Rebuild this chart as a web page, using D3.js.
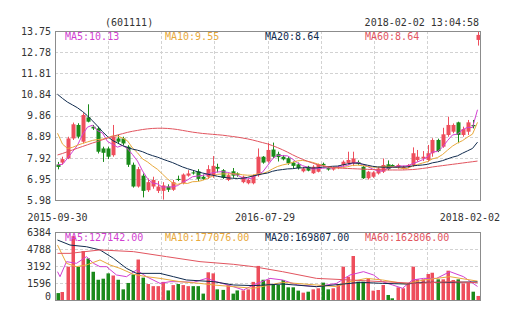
<!DOCTYPE html>
<html><head><meta charset="utf-8">
<script src="https://cdn.jsdelivr.net/npm/d3@7/dist/d3.min.js"></script>
<style>
html,body{margin:0;padding:0;background:#fff;}
text{font-family:"DejaVu Sans Mono",monospace;}
</style></head>
<body><svg id="c" width="505" height="330"></svg>
<script>
const code = "(601111)";
const stamp = "2018-02-02 13:04:58";
const priceTicks = ["13.75","12.78","11.81","10.84","9.86","8.89","7.92","6.95","5.98"];
const volTicks = ["6384","4788","3192","1596","0"];
const dateLabels = ["2015-09-30","2016-07-29","2018-02-02"];
const priceLegend = ["MA5:10.13","MA10:9.55","MA20:8.64","MA60:8.64"];
const volLegend = ["MA5:127142.00","MA10:177076.00","MA20:169807.00","MA60:162806.00"];

const open = [7.61,7.70,7.89,8.81,9.43,8.66,9.78,9.35,9.27,8.35,8.35,8.04,8.81,8.81,8.43,7.60,6.60,7.10,6.43,6.60,
6.40,6.40,6.60,6.45,6.95,6.75,7.10,7.25,7.30,7.05,7.05,7.10,7.50,7.35,6.90,7.30,7.20,6.80,6.75,6.75,
7.12,7.97,7.75,8.30,8.10,7.97,7.90,7.70,7.62,7.30,7.51,7.21,7.28,7.64,7.45,7.38,7.45,7.58,7.67,7.67,
7.72,7.51,6.98,7.05,7.20,7.28,7.62,7.59,7.47,7.42,7.51,7.59,7.82,7.89,7.82,8.13,8.74,8.43,8.97,9.12,
9.55,8.97,9.12,9.43,13.34];
const high = [7.73,7.97,8.89,9.54,9.51,9.97,10.38,9.43,9.35,8.43,8.43,9.43,8.97,8.89,8.50,7.70,7.50,7.20,6.97,7.05,
6.85,6.80,6.70,6.90,7.10,7.20,7.35,7.35,7.40,7.15,7.58,8.00,7.65,7.40,7.20,7.45,7.25,7.10,6.95,7.15,
8.35,8.00,8.60,8.62,8.20,8.05,7.95,7.75,7.70,7.50,7.55,7.58,7.65,7.70,7.50,7.50,7.55,7.80,8.20,8.20,
7.80,7.55,7.32,7.30,7.48,7.89,7.80,7.62,7.65,7.55,7.63,8.40,8.28,8.23,8.51,8.82,8.80,9.30,9.81,9.50,
9.58,9.35,9.66,9.66,13.75];
const low = [7.39,7.61,7.86,8.74,8.81,8.58,9.55,9.20,8.12,7.73,7.86,7.97,8.58,8.50,7.50,6.55,6.55,6.10,6.35,6.50,
6.30,6.00,6.35,6.40,6.85,6.70,7.05,7.15,6.85,6.90,6.95,7.00,7.25,6.95,6.85,7.00,7.05,6.75,6.70,6.70,
7.05,7.65,7.70,7.90,7.75,7.80,7.60,7.45,7.38,7.25,7.30,7.18,7.25,7.52,7.33,7.33,7.40,7.52,7.60,7.54,
7.60,6.95,6.92,7.00,7.15,7.22,7.35,7.52,7.42,7.38,7.45,7.51,7.74,7.77,7.74,7.97,8.18,8.38,8.89,9.05,
8.59,8.89,8.97,9.27,13.08];
const close = [7.50,7.86,8.81,9.46,8.89,9.89,9.58,9.27,8.20,8.15,7.97,8.89,8.66,8.58,7.60,6.60,7.40,6.40,6.80,6.90,
6.60,6.65,6.45,6.80,6.90,7.15,7.20,7.20,6.95,6.95,7.40,7.55,7.42,7.00,7.12,7.10,7.12,7.05,6.90,7.10,
7.97,7.70,8.28,7.97,7.95,7.85,7.67,7.55,7.44,7.43,7.33,7.51,7.62,7.58,7.38,7.45,7.50,7.74,7.82,7.89,
7.65,6.98,7.28,7.25,7.43,7.59,7.40,7.55,7.59,7.51,7.59,8.13,7.97,7.97,8.13,8.74,8.23,9.00,9.43,9.43,
8.97,9.24,9.55,9.37,13.57];
const volume = [650,750,3130,6000,3130,4600,3900,2650,1900,2000,2500,2300,1900,1000,1600,2400,3800,2100,1500,1300,
1300,1700,900,1400,1500,1400,1300,1300,1300,600,2600,2500,1000,950,1400,600,900,900,1000,1700,
3200,1900,1900,1410,1410,1880,1190,1190,880,690,780,1000,1100,1630,1000,1100,1500,3130,2190,4130,
1720,1720,2040,880,940,1410,470,160,1190,1100,1570,3130,1940,1940,2440,2560,1940,1940,2750,1880,
1940,1570,1630,780,380];

const ma5 = [7.60,7.62,7.90,8.20,8.50,8.98,9.33,9.42,9.17,9.06,8.67,8.54,8.41,8.49,8.34,8.07,7.77,7.32,6.96,6.76,
6.72,6.57,6.58,6.58,6.64,6.79,6.90,7.05,7.08,7.11,7.16,7.23,7.27,7.28,7.25,7.19,7.12,7.00,6.95,6.99,
7.16,7.26,7.56,7.87,8.04,8.02,8.01,7.86,7.69,7.56,7.49,7.40,7.42,7.44,7.46,7.45,7.50,7.52,7.57,7.67,
7.71,7.62,7.52,7.41,7.32,7.31,7.43,7.49,7.53,7.55,7.55,7.65,7.73,7.83,7.96,8.19,8.21,8.41,8.71,8.97,
9.01,9.21,9.32,9.31,10.13];
const ma10 = [9.05,8.55,8.35,8.40,8.50,8.58,8.65,8.72,8.76,8.78,8.83,8.93,8.92,8.83,8.70,8.37,8.15,7.87,7.73,7.55,
7.39,7.17,6.95,6.77,6.70,6.76,6.74,6.82,6.83,6.88,6.98,7.07,7.16,7.18,7.18,7.18,7.18,7.14,7.12,7.12,
7.18,7.19,7.28,7.41,7.52,7.59,7.64,7.71,7.78,7.80,7.76,7.71,7.64,7.57,7.51,7.47,7.45,7.47,7.51,7.57,
7.58,7.56,7.52,7.49,7.49,7.51,7.53,7.51,7.47,7.43,7.43,7.54,7.61,7.68,7.75,7.87,7.93,8.07,8.27,8.46,
8.60,8.71,8.87,9.01,9.55];
const ma20 = [10.84,10.65,10.48,10.35,10.22,10.05,9.85,9.62,9.38,9.12,8.90,8.72,8.60,8.48,8.40,8.32,8.27,8.20,8.10,8.02,
7.95,7.86,7.78,7.70,7.60,7.50,7.42,7.35,7.28,7.22,7.17,7.12,7.07,7.03,7.00,6.98,6.97,6.98,7.02,7.08,
7.13,7.18,7.22,7.30,7.35,7.38,7.41,7.42,7.45,7.46,7.47,7.45,7.46,7.49,7.51,7.53,7.54,7.59,7.64,7.68,
7.67,7.63,7.58,7.53,7.50,7.49,7.49,7.49,7.49,7.50,7.50,7.55,7.57,7.59,7.62,7.69,7.73,7.79,7.87,7.95,
8.01,8.13,8.24,8.35,8.64];
const ma60 = [8.05,8.12,8.20,8.28,8.36,8.44,8.52,8.60,8.67,8.75,8.83,8.90,8.97,9.03,9.09,9.14,9.18,9.22,9.25,9.27,
9.28,9.28,9.27,9.25,9.22,9.18,9.14,9.10,9.07,9.04,9.02,9.00,8.98,8.96,8.93,8.90,8.87,8.83,8.79,8.74,
8.68,8.62,8.56,8.48,8.39,8.29,8.18,8.06,7.95,7.85,7.76,7.68,7.60,7.55,7.51,7.48,7.46,7.44,7.43,7.42,
7.41,7.40,7.39,7.38,7.37,7.37,7.36,7.36,7.36,7.36,7.37,7.38,7.40,7.43,7.46,7.50,7.53,7.56,7.59,7.62,
7.65,7.68,7.71,7.74,7.77];

// volume moving averages, read at these bar positions
const vmaPos5 = [0,0.5,1.8,3.8,5.8,7.2,8.5,9.8,11.8,13.8,15.8,17.8,20.5,22.5,24.5,27.2,29.8,31.8,35.2,37.2,39.2,42.5,45,48,51.8,55.8,58.5,61.2,63.2,65,67,69,71,73.2,75.8,78.5,81.2,84];
const vma5 = [2660,2190,3600,3440,4070,3440,3130,3130,2350,2190,2820,2190,1560,1720,1720,1660,2030,1720,1250,940,1410,2030,1880,1410,1250,1560,2350,2660,2350,1720,1410,1100,1880,2030,2030,2660,2190,1271];
const vmaPos10 = [0,1.8,3.8,5.8,8.5,10.5,12.5,15.2,17.8,20.5,24.5,28.5,31.2,35.2,39.2,45,51.8,55.8,58.5,61.8,65,69.8,73.2,78.5,84];
const vma10 = [5160,3440,3130,3290,3760,3290,2970,2410,2190,2030,1720,1560,1410,1250,1100,1660,1410,1250,1720,2030,1880,1500,1880,2190,1771];
const vmaPos20 = [0,2.5,5.8,8.5,11.2,13.8,15.8,20.5,23.2,25.8,31.2,35.2,39.2,45,51.8,58.5,60.5,65,69.8,73.2,78.5,84];
const vma20 = [5630,5160,5000,4700,3910,2970,2500,2500,2190,1880,1720,1410,1350,1500,1250,1560,1660,1560,1500,1660,1660,1698];
const vmaPos60 = [0,2.5,8.5,15.2,21.8,28.5,35.2,39.2,45,51.8,58.5,65,71.8,78.5,84];
const vma60 = [4380,4380,4700,4540,4070,3600,3350,3130,2660,2030,1880,1720,1560,1720,1628];

const C = {up:"#ee4e5c", down:"#1a8a1a", ma5:"#d23fd2", ma10:"#e9a93b", ma20:"#102b4e", ma60:"#e2555f",
  grid:"#d2d2d2", border:"#8c8c8c", text:"#333"};
const maColors = [C.ma5, C.ma10, C.ma20, C.ma60];

const svg = d3.select("#c");
const L = 55, R = 480, PT = 31, PB = 200, VT = 232, VB = 300;
const n = close.length;
const x = d3.scaleLinear().domain([-0.5, n - 0.5]).range([L, R]);
const y = d3.scaleLinear().domain([+priceTicks[priceTicks.length-1], +priceTicks[0]]).range([PB, PT]);
const yv = d3.scaleLinear().domain([0, +volTicks[0]]).range([VB, VT]);
const gx = d3.scaleLinear().domain([0, 8]).range([L, R]);

function grid(top, bottom, yScale, ticks) {
  const g = svg.append("g");
  g.selectAll("line.h").data(ticks.slice(1, -1)).join("line")
    .attr("x1", L).attr("x2", R)
    .attr("y1", d => Math.round(yScale(+d)) + 0.5).attr("y2", d => Math.round(yScale(+d)) + 0.5)
    .attr("stroke", C.grid).attr("stroke-dasharray", "3,2");
  g.selectAll("line.v").data(d3.range(1, 8)).join("line")
    .attr("x1", d => Math.round(gx(d)) + 0.5).attr("x2", d => Math.round(gx(d)) + 0.5)
    .attr("y1", top).attr("y2", bottom)
    .attr("stroke", C.grid).attr("stroke-dasharray", "3,2");
}
grid(PT, PB, y, priceTicks);
grid(VT, VB, yv, volTicks);

// axes
const ax = svg.append("g").attr("transform", `translate(${L},0)`)
  .call(d3.axisLeft(y).tickValues(priceTicks.map(Number)).tickFormat((d, i) => priceTicks[i]).tickSize(0).tickPadding(4));
ax.select(".domain").remove();
ax.selectAll("text").attr("font-family", "DejaVu Sans Mono").attr("font-size", 10).attr("fill", C.text);
const av = svg.append("g").attr("transform", `translate(${L},0)`)
  .call(d3.axisLeft(yv).tickValues(volTicks.map(Number)).tickFormat((d, i) => volTicks[i]).tickSize(0).tickPadding(4));
av.select(".domain").remove();
av.selectAll("text").attr("font-family", "DejaVu Sans Mono").attr("font-size", 10).attr("fill", C.text)
  .attr("dy", (d) => d === 0 ? "-0.05em" : "0.32em");

// candles
const idx = d3.range(n);
const col = i => close[i] >= open[i] ? C.up : C.down;
const cg = svg.append("g");
cg.selectAll("line").data(idx).join("line")
  .attr("x1", i => Math.round(x(i)) + 0.5).attr("x2", i => Math.round(x(i)) + 0.5)
  .attr("y1", i => y(high[i])).attr("y2", i => y(low[i]))
  .attr("stroke", col).attr("stroke-width", 1);
cg.selectAll("rect").data(idx).join("rect")
  .attr("x", i => Math.round(x(i)) - 1.5).attr("width", 4)
  .attr("y", i => y(Math.max(open[i], close[i])))
  .attr("height", i => Math.max(1, Math.abs(y(open[i]) - y(close[i]))))
  .attr("fill", col);

// price MA lines
const line = d3.line().x((d, i) => x(i)).y(d => y(d));
[ma5, ma10, ma20, ma60].forEach((arr, k) => {
  svg.append("path").datum(arr).attr("d", line).attr("fill", "none")
    .attr("stroke", maColors[k]).attr("stroke-width", 1);
});

// volume bars
svg.append("g").selectAll("rect").data(idx).join("rect")
  .attr("x", i => Math.round(x(i)) - 1.5).attr("width", 3.5)
  .attr("y", i => yv(volume[i])).attr("height", i => VB - yv(volume[i]))
  .attr("fill", col);

// volume MA lines
[[vmaPos5, vma5], [vmaPos10, vma10], [vmaPos20, vma20], [vmaPos60, vma60]].forEach(([pos, val], k) => {
  const vl = d3.line().x((d, i) => x(pos[i])).y(d => yv(d));
  svg.append("path").datum(val).attr("d", vl).attr("fill", "none")
    .attr("stroke", maColors[k]).attr("stroke-width", 1);
});

// borders
[[PT, PB], [VT, VB]].forEach(([t, b]) => {
  svg.append("rect").attr("x", L + 0.5).attr("y", t + 0.5).attr("width", R - L).attr("height", b - t)
    .attr("fill", "none").attr("stroke", C.border);
});

// legends
const fs = 10;
priceLegend.forEach((t, k) => {
  svg.append("text").attr("x", 65 + 100 * k).attr("y", 40).attr("font-size", fs)
    .attr("fill", maColors[k]).text(t);
});
volLegend.forEach((t, k) => {
  svg.append("text").attr("x", 65 + 100 * k).attr("y", 241).attr("font-size", fs)
    .attr("fill", maColors[k]).text(t);
});

// header
svg.append("text").attr("x", 105).attr("y", 26).attr("font-size", fs).attr("fill", C.text).text(code);
svg.append("text").attr("x", 479).attr("y", 26).attr("font-size", fs).attr("fill", C.text)
  .attr("text-anchor", "end").text(stamp);

// dates
svg.append("text").attr("x", x(0)).attr("y", 221).attr("font-size", fs).attr("fill", C.text)
  .attr("text-anchor", "middle").text(dateLabels[0]);
svg.append("text").attr("x", x(41.5)).attr("y", 221).attr("font-size", fs).attr("fill", C.text)
  .attr("text-anchor", "middle").text(dateLabels[1]);
svg.append("text").attr("x", 500).attr("y", 221).attr("font-size", fs).attr("fill", C.text)
  .attr("text-anchor", "end").text(dateLabels[2]);
</script>
</body></html>
